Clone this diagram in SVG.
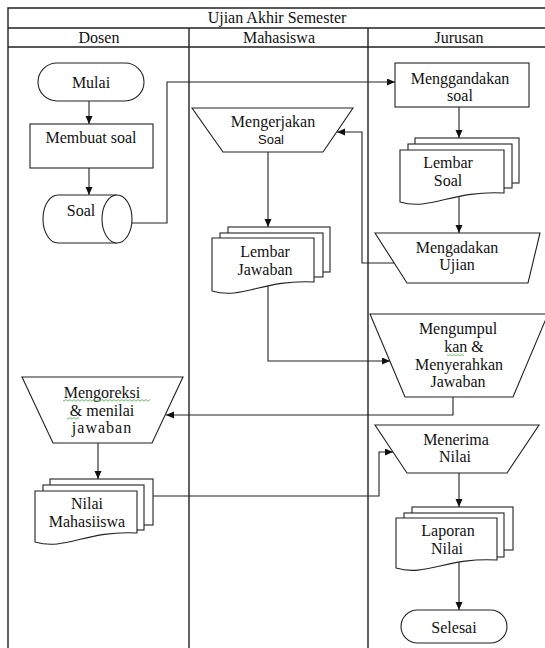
<svg xmlns="http://www.w3.org/2000/svg" width="545" height="648" viewBox="0 0 545 648">
<style>
.grid{stroke:#222;stroke-width:1.4;fill:none}
.shape{fill:#fff;stroke:#222;stroke-width:1.1}
.conn{fill:none;stroke:#222;stroke-width:1.1}
text{font-family:"Liberation Serif","Times New Roman",serif;font-size:16px;fill:#111;text-anchor:middle}
.sans{font-family:"Liberation Sans",Arial,sans-serif;font-size:13px}
</style>
<defs>
<marker id="arr" markerUnits="userSpaceOnUse" markerWidth="9" markerHeight="8" refX="8" refY="3.5" orient="auto">
<path d="M0,0 L8,3.5 L0,7 Z" fill="#111"/>
</marker>
<pattern id="wavy" width="4" height="3" patternUnits="userSpaceOnUse">
<path d="M0 2.2 L2 0.6 L4 2.2" fill="none" stroke="#4a4" stroke-width="0.8"/>
</pattern>
</defs>
<rect width="545" height="648" fill="#fff"/>
<g id="table">
<path class="grid" d="M8 648 V8 H545 M8 28 H545 M8 47 H545 M189 28 V648 M368 28 V648"/>
<text x="277" y="23">Ujian Akhir Semester</text>
<text x="99" y="43">Dosen</text>
<text x="279" y="43">Mahasiswa</text>
<text x="459" y="43">Jurusan</text>
</g>
<g id="connectors">
<path class="conn" marker-end="url(#arr)" d="M89 101 V124"/>
<path class="conn" marker-end="url(#arr)" d="M89 168 V195"/>
<path class="conn" marker-end="url(#arr)" d="M132 223 H167 V82 H395"/>
<path class="conn" marker-end="url(#arr)" d="M459 107 V138"/>
<path class="conn" marker-end="url(#arr)" d="M459 196 V233"/>
<path class="conn" marker-end="url(#arr)" d="M394 263 H362 V132 H337"/>
<path class="conn" marker-end="url(#arr)" d="M268 152 V227"/>
<path class="conn" marker-end="url(#arr)" d="M268 285 V361 H390"/>
<path class="conn" marker-end="url(#arr)" d="M453 397 V415 H166"/>
<path class="conn" marker-end="url(#arr)" d="M98 443 V479"/>
<path class="conn" marker-end="url(#arr)" d="M153 496 H379 V452 H393"/>
<path class="conn" marker-end="url(#arr)" d="M459 473 V507"/>
<path class="conn" marker-end="url(#arr)" d="M459 562 V610"/>
</g>
<g id="mulai">
<rect class="shape" x="38" y="63" width="106" height="38" rx="19"/>
<text x="91" y="88">Mulai</text>
</g>
<g id="membuat-soal">
<rect class="shape" x="30" y="124" width="123" height="44"/>
<text x="91" y="143">Membuat soal</text>
</g>
<g id="soal">
<path class="shape" d="M58 195 H117 A15 24 0 0 1 117 243 H58 A15 24 0 0 1 58 195 Z"/>
<path class="shape" d="M117 195 A15 24 0 0 0 117 243"/>
<text x="81" y="216">Soal</text>
</g>
<g id="menggandakan-soal">
<rect class="shape" x="395" y="63" width="134" height="44"/>
<text x="460" y="84">Menggandakan</text>
<text x="460" y="101">soal</text>
</g>
<g id="lembar-soal">
<rect class="shape" x="415" y="138" width="104" height="45"/>
<rect class="shape" x="408" y="144" width="104" height="44"/>
<path class="shape" d="M400 150 H504 V193 C452 190 431 211 400 202 Z"/>
<text x="448" y="168">Lembar</text>
<text x="448" y="186">Soal</text>
</g>
<g id="mengadakan-ujian">
<polygon class="shape" points="375,233 540,233 528,283 407,283"/>
<text x="457" y="253">Mengadakan</text>
<text x="457" y="270">Ujian</text>
</g>
<g id="mengerjakan-soal">
<polygon class="shape" points="192,108 353,108 323,152 223,152"/>
<text x="273" y="127">Mengerjakan</text>
<text class="sans" x="271" y="144">Soal</text>
</g>
<g id="lembar-jawaban">
<rect class="shape" x="228" y="227" width="102" height="45"/>
<rect class="shape" x="220" y="233" width="103" height="44"/>
<path class="shape" d="M212 238 H314 V282 C263 279 243 300 212 291 Z"/>
<text x="265" y="257">Lembar</text>
<text x="265" y="275">Jawaban</text>
</g>
<g id="mengumpulkan">
<polygon class="shape" points="370,314 548,314 513,397 405,397"/>
<text x="458" y="334">Mengumpul</text>
<text x="464" y="352">kan &amp;</text>
<rect x="447" y="353" width="17" height="3" fill="url(#wavy)"/>
<text x="459" y="370">Menyerahkan</text>
<text x="458" y="387">Jawaban</text>
</g>
<g id="mengoreksi">
<polygon class="shape" points="22,377 183,377 152,443 53,443"/>
<text x="102" y="398">Mengoreksi</text>
<rect x="63" y="399" width="87" height="3" fill="url(#wavy)"/>
<text x="102" y="416">&amp; menilai</text>
<rect x="67" y="417" width="12" height="3" fill="url(#wavy)"/>
<text x="102" y="433" letter-spacing="1">jawaban</text>
</g>
<g id="nilai-mahasiswa">
<rect class="shape" x="50" y="479" width="103" height="46"/>
<rect class="shape" x="43" y="485" width="101" height="45"/>
<path class="shape" d="M35 491 H137 V533 C86 530 66 551 35 542 Z"/>
<text x="87" y="509">Nilai</text>
<text x="87" y="527">Mahasiiswa</text>
</g>
<g id="menerima-nilai">
<polygon class="shape" points="375,425 539,425 507,473 407,473"/>
<text x="456" y="445">Menerima</text>
<text x="455" y="462">Nilai</text>
</g>
<g id="laporan-nilai">
<rect class="shape" x="412" y="507" width="101" height="43"/>
<rect class="shape" x="404" y="513" width="100" height="44"/>
<path class="shape" d="M396 518 H497 V560 C447 557 426 577 396 568 Z"/>
<text x="448" y="536">Laporan</text>
<text x="447" y="554">Nilai</text>
</g>
<g id="selesai">
<rect class="shape" x="401" y="610" width="106" height="33" rx="16.5"/>
<text x="454" y="633">Selesai</text>
</g>
</svg>
